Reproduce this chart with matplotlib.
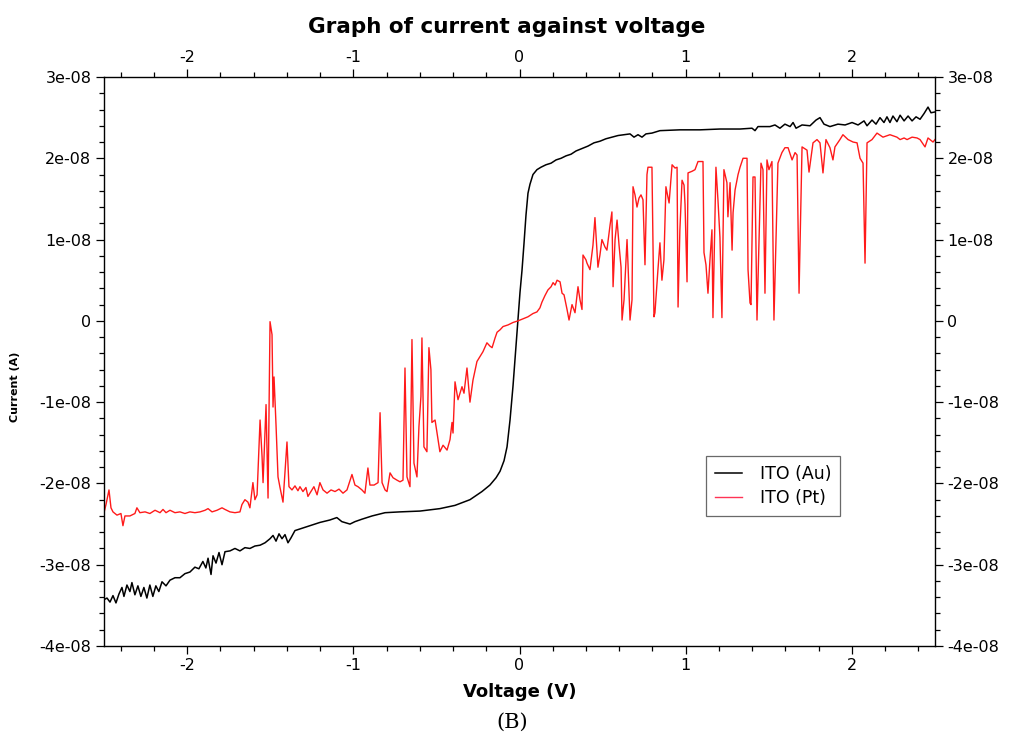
import numpy as np
import matplotlib
matplotlib.use("Agg")
import matplotlib.pyplot as plt
from matplotlib.ticker import MultipleLocator, FuncFormatter

# ITO (Au): voltage (V) and current (units of 1e-8 A)
au_v = [-2.500, -2.482, -2.464, -2.446, -2.428, -2.410, -2.392, -2.380, -2.362, -2.344,
        -2.332, -2.314, -2.296, -2.278, -2.260, -2.242, -2.224, -2.206, -2.188, -2.170,
        -2.151, -2.127, -2.103, -2.073, -2.043, -2.013, -1.983, -1.953, -1.929, -1.905,
        -1.887, -1.874, -1.856, -1.844, -1.826, -1.808, -1.790, -1.772, -1.742, -1.712,
        -1.682, -1.652, -1.622, -1.592, -1.561, -1.531, -1.501, -1.483, -1.465, -1.447,
        -1.429, -1.411, -1.393, -1.375, -1.351, -1.321, -1.261, -1.201, -1.141, -1.099,
        -1.069, -1.020, -0.990, -0.948, -0.887, -0.809, -0.719, -0.599, -0.479, -0.388,
        -0.298, -0.226, -0.178, -0.141, -0.117, -0.093, -0.075, -0.057, -0.039, -0.021,
        -0.009, 0.003, 0.015, 0.027, 0.039, 0.051, 0.063, 0.081, 0.105, 0.129,
        0.159, 0.190, 0.220, 0.250, 0.280, 0.310, 0.340, 0.376, 0.412, 0.448,
        0.484, 0.520, 0.556, 0.593, 0.629, 0.665, 0.689, 0.713, 0.737, 0.761,
        0.797, 0.845, 0.965, 1.086, 1.206, 1.327, 1.399, 1.417, 1.435, 1.507,
        1.537, 1.567, 1.597, 1.628, 1.646, 1.664, 1.700, 1.748, 1.784, 1.808,
        1.832, 1.868, 1.916, 1.959, 2.001, 2.037, 2.073, 2.091, 2.121, 2.145,
        2.169, 2.193, 2.211, 2.229, 2.247, 2.271, 2.290, 2.314, 2.338, 2.362,
        2.386, 2.410, 2.434, 2.458, 2.476, 2.500]
au_i = [-3.43, -3.41, -3.46, -3.38, -3.47, -3.36, -3.28, -3.39, -3.25, -3.33,
        -3.22, -3.37, -3.26, -3.39, -3.28, -3.41, -3.25, -3.39, -3.26, -3.33,
        -3.21, -3.26, -3.19, -3.16, -3.16, -3.11, -3.09, -3.03, -3.05, -2.96,
        -3.04, -2.92, -3.12, -2.89, -2.98, -2.85, -3.00, -2.84, -2.83, -2.80,
        -2.83, -2.79, -2.80, -2.77, -2.76, -2.73, -2.68, -2.64, -2.71, -2.62,
        -2.68, -2.63, -2.73, -2.67, -2.58, -2.56, -2.52, -2.48, -2.45, -2.42,
        -2.47, -2.50, -2.47, -2.44, -2.40, -2.36, -2.35, -2.34, -2.31, -2.27,
        -2.20, -2.10, -2.02, -1.93, -1.85, -1.72, -1.55, -1.22, -0.80, -0.30,
        0.05, 0.35, 0.62, 0.95, 1.30, 1.57, 1.68, 1.80, 1.86, 1.89,
        1.92, 1.94, 1.98, 2.00, 2.03, 2.05, 2.09, 2.12, 2.15, 2.19,
        2.21, 2.24, 2.26, 2.28, 2.29, 2.30, 2.26, 2.29, 2.26, 2.30,
        2.31, 2.34, 2.35, 2.35, 2.36, 2.36, 2.37, 2.34, 2.39, 2.39,
        2.41, 2.37, 2.42, 2.39, 2.44, 2.37, 2.41, 2.40, 2.47, 2.50,
        2.42, 2.39, 2.42, 2.41, 2.44, 2.41, 2.46, 2.40, 2.47, 2.42,
        2.50, 2.44, 2.51, 2.44, 2.52, 2.45, 2.53, 2.46, 2.52, 2.46,
        2.51, 2.48, 2.55, 2.63, 2.56, 2.57]

# ITO (Pt)
pt_v = [-2.500, -2.488, -2.470, -2.458, -2.446, -2.422, -2.398, -2.386, -2.374, -2.344,
        -2.314, -2.302, -2.284, -2.253, -2.224, -2.193, -2.163, -2.145, -2.127, -2.103,
        -2.073, -2.043, -2.013, -1.983, -1.953, -1.922, -1.892, -1.874, -1.850, -1.820,
        -1.790, -1.772, -1.742, -1.712, -1.682, -1.670, -1.652, -1.634, -1.622, -1.604,
        -1.592, -1.579, -1.561, -1.549, -1.543, -1.525, -1.513, -1.501, -1.489, -1.483,
        -1.477, -1.465, -1.453, -1.441, -1.423, -1.399, -1.387, -1.369, -1.351, -1.333,
        -1.321, -1.303, -1.285, -1.273, -1.255, -1.237, -1.218, -1.201, -1.182, -1.158,
        -1.134, -1.110, -1.086, -1.062, -1.038, -1.008, -0.990, -0.972, -0.948, -0.930,
        -0.912, -0.900, -0.875, -0.851, -0.839, -0.827, -0.809, -0.797, -0.779, -0.761,
        -0.737, -0.719, -0.701, -0.689, -0.677, -0.659, -0.647, -0.635, -0.617, -0.605,
        -0.593, -0.587, -0.575, -0.557, -0.545, -0.533, -0.527, -0.508, -0.490, -0.479,
        -0.460, -0.436, -0.418, -0.406, -0.400, -0.388, -0.370, -0.346, -0.334, -0.316,
        -0.298, -0.280, -0.256, -0.238, -0.220, -0.196, -0.178, -0.165, -0.147, -0.135,
        -0.117, -0.099, -0.069, -0.039, -0.009, 0.015, 0.051, 0.081, 0.105, 0.123,
        0.135, 0.153, 0.171, 0.190, 0.202, 0.214, 0.226, 0.244, 0.256, 0.268,
        0.286, 0.298, 0.316, 0.334, 0.352, 0.364, 0.376, 0.382, 0.400, 0.406,
        0.424, 0.442, 0.454, 0.472, 0.484, 0.496, 0.514, 0.526, 0.545, 0.556,
        0.563, 0.575, 0.587, 0.599, 0.611, 0.617, 0.629, 0.647, 0.653, 0.665,
        0.677, 0.683, 0.695, 0.707, 0.719, 0.731, 0.743, 0.755, 0.767, 0.773,
        0.797, 0.809, 0.815, 0.833, 0.845, 0.857, 0.869, 0.881, 0.900, 0.918,
        0.936, 0.948, 0.954, 0.965, 0.978, 0.990, 0.996, 1.008, 1.014, 1.038,
        1.056, 1.074, 1.104, 1.110, 1.122, 1.134, 1.146, 1.158, 1.164, 1.182,
        1.194, 1.206, 1.218, 1.230, 1.248, 1.254, 1.267, 1.279, 1.285, 1.297,
        1.315, 1.327, 1.345, 1.369, 1.375, 1.387, 1.393, 1.405, 1.417, 1.429,
        1.441, 1.453, 1.465, 1.477, 1.489, 1.501, 1.519, 1.531, 1.543, 1.555,
        1.579, 1.597, 1.616, 1.640, 1.658, 1.670, 1.682, 1.700, 1.730, 1.742,
        1.766, 1.790, 1.808, 1.826, 1.844, 1.868, 1.886, 1.898, 1.928, 1.946,
        1.977, 2.007, 2.031, 2.049, 2.067, 2.079, 2.091, 2.121, 2.151, 2.187,
        2.229, 2.271, 2.290, 2.314, 2.332, 2.362, 2.392, 2.410, 2.440, 2.458,
        2.488, 2.500]
pt_i = [-2.36, -2.26, -2.08, -2.30, -2.35, -2.39, -2.37, -2.52, -2.40, -2.40,
        -2.37, -2.30, -2.36, -2.35, -2.37, -2.33, -2.36, -2.32, -2.36, -2.33,
        -2.36, -2.35, -2.37, -2.35, -2.36, -2.35, -2.33, -2.31, -2.35, -2.33,
        -2.30, -2.32, -2.35, -2.36, -2.35, -2.26, -2.20, -2.23, -2.30, -1.99,
        -2.20, -2.14, -1.22, -1.67, -1.99, -1.03, -2.18, -0.01, -0.17, -1.06,
        -0.69, -1.28, -1.92, -2.05, -2.23, -1.49, -2.04, -2.08, -2.03, -2.09,
        -2.04, -2.10, -2.05, -2.16, -2.10, -2.04, -2.14, -1.99, -2.08, -2.12,
        -2.08, -2.10, -2.07, -2.12, -2.08, -1.89, -2.02, -2.04, -2.08, -2.12,
        -1.81, -2.02, -2.02, -1.99, -1.13, -1.99, -2.08, -2.10, -1.87, -1.93,
        -1.96, -1.98, -1.96, -0.58, -1.92, -2.04, -0.23, -1.75, -1.92, -1.30,
        -0.93, -0.21, -1.55, -1.61, -0.33, -0.60, -1.25, -1.22, -1.46, -1.61,
        -1.53, -1.59, -1.46, -1.25, -1.38, -0.75, -0.97, -0.81, -0.89, -0.58,
        -1.00, -0.73, -0.50, -0.44, -0.38, -0.27, -0.31, -0.33, -0.21, -0.14,
        -0.11, -0.07, -0.05, -0.02, 0.00, 0.02, 0.05, 0.09, 0.11, 0.16,
        0.23, 0.31, 0.38, 0.42, 0.47, 0.44, 0.50, 0.48, 0.34, 0.32,
        0.14, 0.01, 0.20, 0.10, 0.42, 0.26, 0.14, 0.81, 0.75, 0.71,
        0.63, 0.93, 1.27, 0.66, 0.81, 1.00, 0.91, 0.87, 1.18, 1.34,
        0.42, 1.00, 1.24, 0.93, 0.66, 0.01, 0.26, 1.00, 0.69, 0.01,
        0.26, 1.65, 1.55, 1.40, 1.51, 1.55, 1.49, 0.69, 1.80, 1.89,
        1.89, 0.05, 0.10, 0.63, 0.96, 0.50, 0.75, 1.65, 1.45, 1.92,
        1.88, 1.89, 0.17, 1.12, 1.73, 1.67, 1.43, 0.48, 1.82, 1.84,
        1.86, 1.96, 1.96, 0.84, 0.69, 0.34, 0.75, 1.12, 0.04, 1.89,
        1.49, 1.03, 0.04, 1.86, 1.70, 1.28, 1.70, 0.87, 1.33, 1.61,
        1.80, 1.89, 2.00, 2.00, 0.63, 0.22, 0.20, 1.77, 1.77, 0.01,
        1.00, 1.94, 1.86, 0.34, 1.98, 1.86, 1.96, 0.01, 1.00, 1.94,
        2.07, 2.13, 2.13, 1.98, 2.07, 2.04, 0.34, 2.14, 2.10, 1.83,
        2.19, 2.23, 2.19, 1.82, 2.23, 2.13, 1.98, 2.14, 2.23, 2.29,
        2.23, 2.20, 2.19, 2.00, 1.94, 0.71, 2.19, 2.23, 2.31, 2.26,
        2.29, 2.26, 2.23, 2.25, 2.23, 2.26, 2.25, 2.23, 2.14, 2.25,
        2.20, 2.23]

x_ticks = [-2, -1, 0, 1, 2]
y_ticks = [-4e-8, -3e-8, -2e-8, -1e-8, 0, 1e-8, 2e-8, 3e-8]

plt.rcParams['font.family'] = ['DejaVu Sans']

fig = plt.figure(figsize=(10.1, 7.43), dpi=100)
ax = fig.add_axes([104/1010, 1 - 646/743, 831/1010, 569/743])

ax.plot(au_v, np.array(au_i) * 1e-8, color='black', lw=1.1, label='ITO (Au)')
ax.plot(pt_v, np.array(pt_i) * 1e-8, color='#ff1a1a', lw=1.0, label='ITO (Pt)')

ax.set_xlim(-2.5, 2.5)
ax.set_ylim(-4e-8, 3e-8)
ax.set_xticks(x_ticks)
ax.set_yticks(y_ticks)
ax.xaxis.set_minor_locator(MultipleLocator(0.2))
ax.yaxis.set_minor_locator(MultipleLocator(0.2e-8))

def yfmt(val, pos):
    if abs(val) < 1e-12:
        return '0'
    return '%.0e' % val
ax.yaxis.set_major_formatter(FuncFormatter(yfmt))
ax.xaxis.set_major_formatter(FuncFormatter(lambda v, p: '%d' % round(v)))

ax.tick_params(which='both', direction='out', top=True, right=True,
               labeltop=True, labelright=True, labelsize=11.5, width=0.9)
ax.tick_params(which='major', length=6, pad=3)
ax.tick_params(which='minor', length=3.5)
for s in ax.spines.values():
    s.set_linewidth(1.0)

ax.set_xlabel('Voltage (V)', fontsize=13, fontweight='bold', labelpad=7)
ax.set_ylabel('Current (A)', fontsize=8, fontweight='bold')
ax.yaxis.set_label_coords(-0.101, 0.455)
ax.set_title('Graph of current against voltage', fontsize=15.5, fontweight='bold',
             pad=12, x=0.484)

leg = ax.legend(loc='lower left', bbox_to_anchor=(0.714, 0.214), fontsize=12.5,
                frameon=True, fancybox=False, edgecolor='#444444', handlelength=1.6,
                borderpad=0.5, labelspacing=0.35, handletextpad=1.0)
leg.get_frame().set_linewidth(0.9)
leg.legend_handles[1].set_color('#ff3355')

fig.text(0.507, 0.028, '(B)', family='DejaVu Serif', fontsize=15, ha='center', va='center')

fig.savefig('out.png', dpi=100)
